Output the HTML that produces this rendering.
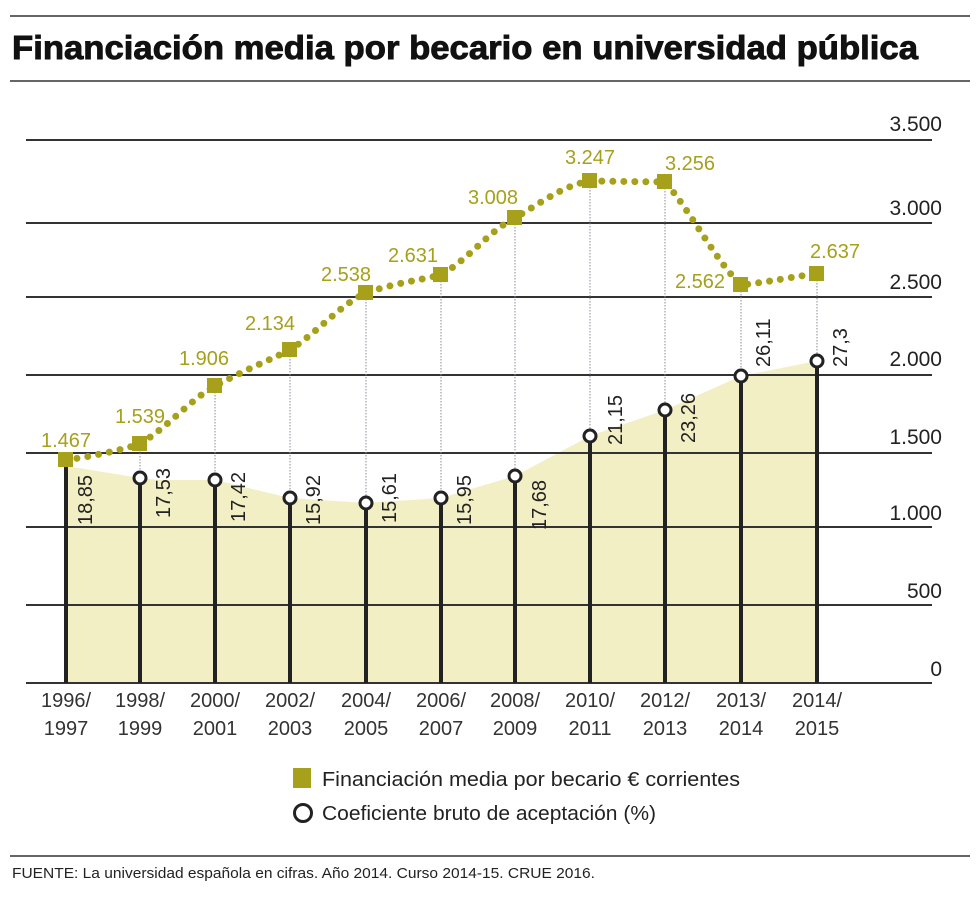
<!DOCTYPE html>
<html><head><meta charset="utf-8"><style>
html,body{margin:0;padding:0;background:#fff;}
svg{display:block;font-family:"Liberation Sans",sans-serif;}
</style></head><body>
<svg width="980" height="897" viewBox="0 0 980 897" xmlns="http://www.w3.org/2000/svg">
<line x1="10" y1="16" x2="970" y2="16" stroke="#333" stroke-width="1.5"/>
<text x="12" y="59" font-size="33" font-weight="bold" fill="#111" stroke="#111" stroke-width="0.9" textLength="906" lengthAdjust="spacingAndGlyphs">Financiación media por becario en universidad pública</text>
<line x1="10" y1="81" x2="970" y2="81" stroke="#333" stroke-width="1.5"/>

<path d="M66,466 L140,478 L160,480 L215,480 L290,498 L366,503 L441,498 L515,476 L590,436 L665,410 L741,376 L817,361 L817,683 L66,683 Z" fill="#f2efc4"/>

<g stroke="#333" stroke-width="2">
<line x1="26" y1="140" x2="932" y2="140"/>
<line x1="26" y1="223" x2="932" y2="223"/>
<line x1="26" y1="297" x2="932" y2="297"/>
<line x1="26" y1="375" x2="932" y2="375"/>
<line x1="26" y1="453" x2="932" y2="453"/>
<line x1="26" y1="527" x2="932" y2="527"/>
<line x1="26" y1="605" x2="932" y2="605"/>
<line x1="26" y1="683" x2="932" y2="683"/>
</g>
<g font-size="21" fill="#222" text-anchor="end">
<text x="942" y="131">3.500</text>
<text x="942" y="215">3.000</text>
<text x="942" y="289">2.500</text>
<text x="942" y="366">2.000</text>
<text x="942" y="444">1.500</text>
<text x="942" y="520">1.000</text>
<text x="942" y="598">500</text>
<text x="942" y="676">0</text>
</g>

<g stroke="#889" stroke-width="1" stroke-dasharray="1.5 1.5">
<line x1="140" y1="444" x2="140" y2="478"/>
<line x1="215" y1="386" x2="215" y2="480"/>
<line x1="290" y1="350" x2="290" y2="498"/>
<line x1="366" y1="293" x2="366" y2="503"/>
<line x1="441" y1="275" x2="441" y2="498"/>
<line x1="515" y1="218" x2="515" y2="476"/>
<line x1="590" y1="181" x2="590" y2="436"/>
<line x1="665" y1="182" x2="665" y2="410"/>
<line x1="741" y1="285" x2="741" y2="376"/>
<line x1="817" y1="274" x2="817" y2="361"/>
</g>

<g stroke="#222" stroke-width="4">
<line x1="66" y1="466" x2="66" y2="683"/>
<line x1="140" y1="478" x2="140" y2="683"/>
<line x1="215" y1="480" x2="215" y2="683"/>
<line x1="290" y1="498" x2="290" y2="683"/>
<line x1="366" y1="503" x2="366" y2="683"/>
<line x1="441" y1="498" x2="441" y2="683"/>
<line x1="515" y1="476" x2="515" y2="683"/>
<line x1="590" y1="436" x2="590" y2="683"/>
<line x1="665" y1="410" x2="665" y2="683"/>
<line x1="741" y1="376" x2="741" y2="683"/>
<line x1="817" y1="361" x2="817" y2="683"/>
</g>
<g fill="#fff" stroke="#222" stroke-width="3">
<circle cx="140" cy="478" r="6"/><circle cx="215" cy="480" r="6"/><circle cx="290" cy="498" r="6"/>
<circle cx="366" cy="503" r="6"/><circle cx="441" cy="498" r="6"/><circle cx="515" cy="476" r="6"/>
<circle cx="590" cy="436" r="6"/><circle cx="665" cy="410" r="6"/><circle cx="741" cy="376" r="6"/>
<circle cx="817" cy="361" r="6"/>
</g>

<path d="M66,460 C100,455 120,450 140,444 C170,425 190,400 215,386 C245,370 265,362 290,350 C320,330 340,305 366,293 C395,283 420,280 441,275 C470,258 490,230 515,218 C545,200 565,185 590,181 L665,182 C690,210 715,260 741,285 C770,282 795,276 817,274" fill="none" stroke="#a6a01a" stroke-width="7" stroke-linecap="round" stroke-dasharray="0 11"/>
<g fill="#a6a01a">
<rect x="58" y="452" width="15" height="15"/><rect x="132" y="436" width="15" height="15"/>
<rect x="207" y="378" width="15" height="15"/><rect x="282" y="342" width="15" height="15"/>
<rect x="358" y="285" width="15" height="15"/><rect x="433" y="267" width="15" height="15"/>
<rect x="507" y="210" width="15" height="15"/><rect x="582" y="173" width="15" height="15"/>
<rect x="657" y="174" width="15" height="15"/><rect x="733" y="277" width="15" height="15"/>
<rect x="809" y="266" width="15" height="15"/>
</g>
<g font-size="20" fill="#a6a01a" text-anchor="middle">
<text x="66" y="447">1.467</text><text x="140" y="423">1.539</text>
<text x="204" y="365">1.906</text><text x="270" y="330">2.134</text>
<text x="346" y="281">2.538</text><text x="413" y="262">2.631</text>
<text x="493" y="204">3.008</text><text x="590" y="164">3.247</text>
<text x="690" y="170">3.256</text><text x="700" y="288">2.562</text>
<text x="835" y="258">2.637</text>
</g>
<g font-size="20" fill="#222">
<text transform="translate(92,525) rotate(-90)">18,85</text>
<text transform="translate(170,518) rotate(-90)">17,53</text>
<text transform="translate(245,522) rotate(-90)">17,42</text>
<text transform="translate(320,525) rotate(-90)">15,92</text>
<text transform="translate(396,523) rotate(-90)">15,61</text>
<text transform="translate(471,525) rotate(-90)">15,95</text>
<text transform="translate(546,530) rotate(-90)">17,68</text>
<text transform="translate(622,445) rotate(-90)">21,15</text>
<text transform="translate(695,443) rotate(-90)">23,26</text>
<text transform="translate(770,367) rotate(-90)">26,11</text>
<text transform="translate(847,367) rotate(-90)">27,3</text>
</g>

<g font-size="20" fill="#333" text-anchor="middle">
<text x="66" y="707">1996/</text><text x="66" y="735">1997</text>
<text x="140" y="707">1998/</text><text x="140" y="735">1999</text>
<text x="215" y="707">2000/</text><text x="215" y="735">2001</text>
<text x="290" y="707">2002/</text><text x="290" y="735">2003</text>
<text x="366" y="707">2004/</text><text x="366" y="735">2005</text>
<text x="441" y="707">2006/</text><text x="441" y="735">2007</text>
<text x="515" y="707">2008/</text><text x="515" y="735">2009</text>
<text x="590" y="707">2010/</text><text x="590" y="735">2011</text>
<text x="665" y="707">2012/</text><text x="665" y="735">2013</text>
<text x="741" y="707">2013/</text><text x="741" y="735">2014</text>
<text x="817" y="707">2014/</text><text x="817" y="735">2015</text>
</g>

<rect x="293" y="768" width="18" height="20" fill="#a6a01a"/>
<text x="322" y="786" font-size="20" fill="#222" textLength="418" lengthAdjust="spacingAndGlyphs">Financiación media por becario € corrientes</text>
<circle cx="303" cy="813" r="8.5" fill="#fff" stroke="#222" stroke-width="3"/>
<text x="322" y="820" font-size="20" fill="#222" textLength="334" lengthAdjust="spacingAndGlyphs">Coeficiente bruto de aceptación (%)</text>

<line x1="10" y1="856" x2="970" y2="856" stroke="#333" stroke-width="1.5"/>
<text x="12" y="878" font-size="15" fill="#222" textLength="583" lengthAdjust="spacingAndGlyphs">FUENTE: La universidad española en cifras. Año 2014. Curso 2014-15. CRUE 2016.</text>
</svg>
</body></html>
